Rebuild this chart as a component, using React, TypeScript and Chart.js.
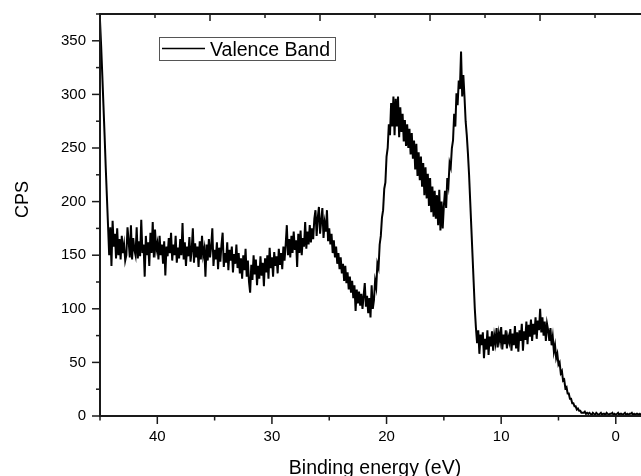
import React, { useEffect, useRef } from "react";
import { Chart, registerables } from "chart.js";

Chart.register(...registerables);

const SERIES_LABEL = "Valence Band";
const X_TITLE = "Binding energy (eV)";
const Y_TITLE = "CPS";

// binding-energy grid (eV), first point and spacing of the scan
const E_START = 45.0;
const E_STEP = 0.1;

// CPS values, high binding energy -> low
const cpsEdge = [369, 345, 318, 290, 262, 232, 205, 178]; // 45.0 .. 44.3
const cpsPlateauA = [
  150, 176, 140, 182, 158, 170, 147, 175, 150, 165,
  146, 168, 152, 160, 145, 150, 176, 163, 148, 178,
  146, 166, 155, 150, 176, 147, 163, 149, 183, 152,
  160, 130, 168, 150, 162, 140, 171, 152, 181, 148,
  174, 155, 161,
]; // 44.2 .. 40.0
const cpsPlateauB = [
  146, 168, 150, 160, 142, 163, 131, 158, 149, 166,
  152, 171, 145, 160, 150, 168, 143, 157, 147, 165,
  150, 180, 146, 162, 140, 158, 149, 167, 144, 155,
  175, 143, 161, 148, 158, 139, 163, 146, 168, 150,
  156, 130, 160, 145, 165, 148, 158, 175, 140, 155,
  146, 162, 137, 157, 144, 160, 171, 139, 152, 143,
  162, 136, 155, 145, 158, 134, 151, 142, 160, 138,
]; // 39.9 .. 33.0
const cpsDip = [
  152, 133, 147, 128, 150, 136, 156, 130, 145, 125,
  115, 141, 127, 150, 132, 146, 122, 140, 128, 149,
  131, 143, 121, 147, 134, 150, 128, 157, 138, 148,
  130, 153, 140, 149, 133, 156, 141, 152, 137, 158,
]; // 32.9 .. 29.0
const cpsShoulder = [
  145, 160, 178, 150, 165, 148, 168, 152, 172, 155,
  164, 139, 170, 152, 173, 150, 166, 158, 181, 156,
  172, 160, 178, 162, 175, 165, 184, 192, 168, 185,
  195, 170, 182, 194, 166, 180, 172, 192, 163, 175,
  160, 170, 152, 164, 148, 158, 142, 152, 137, 148,
]; // 28.9 .. 24.0
const cpsValley = [
  133, 142, 126, 140, 124, 134, 118, 130, 115, 126,
  110, 122, 98, 118, 105, 116, 103, 114, 100, 112,
  124, 102, 112, 96, 110, 92, 122, 100,
]; // 23.9 .. 21.2
const cpsRise = [
  108, 126, 120, 142, 138, 160, 168, 185, 192, 212,
  218, 242, 250, 272, 262, 292, 270, 298, 262, 296,
  270, 298,
]; // 21.1 .. 19.0
const cpsPeakB = [
  260, 288, 265, 282, 256, 276, 252, 272, 250, 268,
  244, 264, 240, 257, 230, 254, 224, 246, 220, 242,
  214, 236, 206, 232, 203, 226, 196, 222, 190, 214,
  186, 210, 184, 206, 178, 211, 173, 200, 175, 196,
]; // 18.9 .. 15.0
const cpsPeakA = [
  210, 194, 222, 215, 236, 232, 250, 257, 282, 270,
  301, 290, 313, 305, 340, 298, 318, 298, 275, 262,
  245, 225, 200, 175, 150, 125, 100, 82, 68, 80,
  58, 76,
]; // 14.9 .. 11.8
const cpsFlat = [
  66, 78, 54, 72, 62, 80, 57, 74, 65, 79,
  61, 75, 68, 82, 64, 77, 70, 83, 62, 76,
  67, 80, 63, 74, 69, 81, 61, 77, 66, 84,
  63, 78, 60, 80, 70, 86, 61, 79, 71, 88,
  67, 85, 74, 90, 70, 86, 76, 92, 72, 89,
  80, 100, 78, 92, 75, 88, 70, 86,
]; // 11.7 .. 6.0
const cpsFall = [
  80, 70, 82, 66, 74, 60, 66, 54, 58, 48,
  50, 40, 42, 33, 34, 26, 27, 21, 21, 16,
  16, 12, 12, 9, 9, 6, 7, 5, 5, 3,
  3, 3, 4, 2, 3, 2, 3, 2, 1, 3,
]; // 5.9 .. 2.0
const cpsTail = [
  2, 1, 3, 2, 1, 2, 3, 1, 2, 2,
  1, 3, 2, 1, 2, 2, 3, 1, 2, 1,
  2, 3, 1, 2, 2, 1, 2, 3, 1, 2,
  1, 2, 2, 3, 1, 2, 1, 2, 2, 1,
  2, 1,
]; // 1.9 .. -2.2

// axis ranges and ticks
const X_MIN = -2.2;
const X_MAX = 45;
const Y_MIN = 0;
const Y_MAX = 375;
const xMajorTicks = [40, 30, 20, 10, 0];
const xMinorTicks = [45, 35, 25, 15, 5];
const yMajorTicks = [0, 50, 100, 150, 200, 250, 300, 350];
const yMinorTicks = [25, 75, 125, 175, 225, 275, 325, 375];
// top axis (linked axis with its own scaling)
const X2_MIN = -4.18;
const X2_MAX = 45;
const topShortTicks = [40, 30, 20, 10, 0];
const topLongTicks = [35, 25, 15, 5];

const FONT = "'Liberation Sans', Arial, Helvetica, sans-serif";
const INK = "#1a1a1a";

const framePlugin = {
  id: "originFrame",
  afterDatasetsDraw(chart: any) {
    const { ctx, chartArea: a, scales } = chart;
    const x = scales.x;
    const y = scales.y;
    const x2 = scales.x2;
    ctx.save();
    ctx.strokeStyle = INK;
    ctx.lineCap = "butt";
    ctx.lineWidth = 1.5;
    const seg = (x1: number, y1: number, xb: number, yb: number) => {
      ctx.beginPath();
      ctx.moveTo(x1, y1);
      ctx.lineTo(xb, yb);
      ctx.stroke();
    };
    // y ticks (outward, left)
    yMajorTicks.forEach((v) => {
      const p = y.getPixelForValue(v);
      seg(a.left - 8, p, a.left, p);
    });
    yMinorTicks.forEach((v) => {
      const p = y.getPixelForValue(v);
      seg(a.left - 4, p, a.left, p);
    });
    // bottom ticks (outward, down)
    xMajorTicks.forEach((v) => {
      const p = x.getPixelForValue(v);
      seg(p, a.bottom, p, a.bottom + 8);
    });
    xMinorTicks.forEach((v) => {
      const p = x.getPixelForValue(v);
      seg(p, a.bottom, p, a.bottom + 4.5);
    });
    // top ticks (inward, down)
    topShortTicks.forEach((v) => {
      const p = x2.getPixelForValue(v);
      seg(p, a.top, p, a.top + 4);
    });
    topLongTicks.forEach((v) => {
      const p = x2.getPixelForValue(v);
      seg(p, a.top, p, a.top + 7);
    });
    // frame lines
    ctx.lineWidth = 2;
    seg(a.left, a.top - 1, a.left, a.bottom + 1);
    seg(a.left - 1, a.bottom, a.right, a.bottom);
    seg(a.left - 1, a.top, a.right, a.top);

    // legend box
    const label = chart.data.datasets[0].label;
    ctx.lineWidth = 1;
    ctx.strokeStyle = "#555";
    ctx.strokeRect(159.5, 37.5, 176, 23);
    ctx.strokeStyle = "#000";
    ctx.lineWidth = 1.6;
    seg(162, 48.5, 205, 48.5);
    ctx.fillStyle = "#000";
    ctx.font = `19.5px ${FONT}`;
    ctx.textAlign = "left";
    ctx.textBaseline = "alphabetic";
    ctx.fillText(label, 210, 55.5);

    // axis titles
    ctx.font = `19.5px ${FONT}`;
    ctx.textAlign = "center";
    ctx.fillText(X_TITLE, 375, 473.5);
    ctx.save();
    ctx.translate(28, 199.5);
    ctx.rotate(-Math.PI / 2);
    ctx.font = `18px ${FONT}`;
    ctx.fillText(Y_TITLE, 0, 0);
    ctx.restore();
    ctx.restore();
  },
};

export default function App() {
  const canvasRef = useRef<HTMLCanvasElement | null>(null);

  useEffect(() => {
    const cps = [
      ...cpsEdge,
      ...cpsPlateauA,
      ...cpsPlateauB,
      ...cpsDip,
      ...cpsShoulder,
      ...cpsValley,
      ...cpsRise,
      ...cpsPeakB,
      ...cpsPeakA,
      ...cpsFlat,
      ...cpsFall,
      ...cpsTail,
    ];
    const points = cps.map((v, i) => ({
      x: Math.round((E_START - i * E_STEP) * 10) / 10,
      y: v,
    }));
    const canvas = canvasRef.current;
    if (!canvas) return;
    const chart = new Chart(canvas, {
      type: "line",
      data: {
        datasets: [
          {
            label: SERIES_LABEL,
            data: points,
            borderColor: "#000",
            borderWidth: 2,
            pointRadius: 0,
            tension: 0,
            fill: false,
          },
        ],
      },
      options: {
        responsive: false,
        animation: false,
        devicePixelRatio: 1,
        layout: { padding: { top: 14, left: 0, right: 0, bottom: 0 } },
        plugins: {
          legend: { display: false },
          tooltip: { enabled: false },
          title: { display: false },
        },
        scales: {
          x: {
            type: "linear",
            position: "bottom",
            min: X_MIN,
            max: X_MAX,
            reverse: true,
            grid: { display: true, drawOnChartArea: false, drawTicks: false },
            border: { display: false },
            ticks: {
              stepSize: 10,
              includeBounds: false,
              padding: 12,
              color: "#000",
              font: { family: FONT, size: 15 },
              maxRotation: 0,
              autoSkip: false,
            },
            afterFit: (s: any) => {
              s.height = 60;
              s.paddingLeft = 0;
              s.paddingRight = 0;
            },
          },
          x2: {
            type: "linear",
            position: "top",
            display: false,
            min: X2_MIN,
            max: X2_MAX,
            reverse: true,
          },
          y: {
            type: "linear",
            min: Y_MIN,
            max: Y_MAX,
            grid: { display: true, drawOnChartArea: false, drawTicks: false },
            border: { display: false },
            ticks: {
              stepSize: 50,
              includeBounds: false,
              padding: 14,
              color: "#000",
              font: { family: FONT, size: 15 },
              autoSkip: false,
            },
            afterFit: (s: any) => {
              s.width = 100;
              s.paddingTop = 0;
              s.paddingBottom = 0;
            },
          },
        },
      },
      plugins: [framePlugin],
    });
    return () => chart.destroy();
  }, []);

  return (
    <div style={{ position: "absolute", left: 0, top: 0, width: 641, height: 476, background: "#fff" }}>
      <canvas ref={canvasRef} width={641} height={476} style={{ display: "block" }} />
    </div>
  );
}
